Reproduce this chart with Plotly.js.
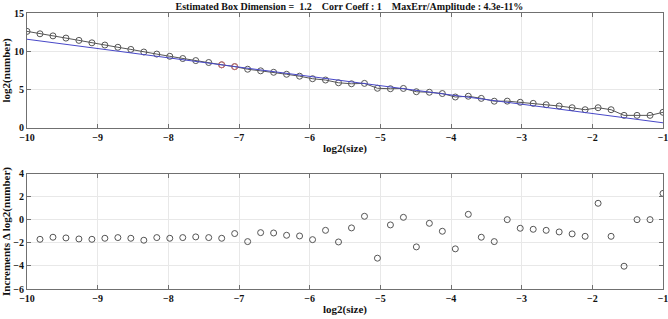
<!DOCTYPE html>
<html>
<head>
<meta charset="utf-8">
<script src="https://cdn.plot.ly/plotly-3.0.1.min.js"></script>
<style>html,body{margin:0;padding:0;background:#fff;}#chart{width:668px;height:319px;}</style>
</head>
<body>
<div id="chart"></div>
<script>
// log2(size) positions
const logSize = [-10.0000, -9.8163, -9.6327, -9.4490, -9.2653, -9.0816, -8.8980, -8.7143, -8.5306, -8.3469,
  -8.1633, -7.9796, -7.7959, -7.6122, -7.4286, -7.2449, -7.0612, -6.8776, -6.6939, -6.5102,
  -6.3265, -6.1429, -5.9592, -5.7755, -5.5918, -5.4082, -5.2245, -5.0408, -4.8571, -4.6735,
  -4.4898, -4.3061, -4.1224, -3.9388, -3.7551, -3.5714, -3.3878, -3.2041, -3.0204, -2.8367,
  -2.6531, -2.4694, -2.2857, -2.1020, -1.9184, -1.7347, -1.5510, -1.3673, -1.1837, -1.0000];
// log2(number)
const logNumber = [12.6, 12.28, 12.01, 11.72, 11.42, 11.1, 10.81, 10.52, 10.24, 9.9,
  9.63, 9.34, 9.05, 8.78, 8.53, 8.23, 7.99, 7.65, 7.44, 7.25,
  6.99, 6.74, 6.41, 6.24, 5.88, 5.75, 5.8, 5.16, 5.1, 5.14,
  4.71, 4.64, 4.47, 4.02, 4.12, 3.84, 3.47, 3.48, 3.33, 3.19,
  3.01, 2.84, 2.62, 2.36, 2.62, 2.36, 1.62, 1.62, 1.62, 2.02];
// highlighted points (indices into the arrays above)
const highlightIdx = [15, 16];
// linear fit end points
const fitX = [-10, -1];
const fitY = [11.57, 0.65];
// increments Δ log2(number), at logSize[1..49]
const increments = [-1.68, -1.50, -1.56, -1.65, -1.68, -1.59, -1.53, -1.59, -1.76, -1.53,
  -1.59, -1.53, -1.47, -1.53, -1.59, -1.18, -1.88, -1.10, -1.13, -1.33,
  -1.39, -1.71, -0.90, -1.91, -0.69, 0.32, -3.32, -0.43, 0.23, -2.34,
  -0.29, -0.98, -2.51, 0.49, -1.50, -1.88, 0.03, -0.72, -0.81, -0.90,
  -1.04, -1.21, -1.42, 1.45, -1.42, -4.02, 0.03, 0.03, 2.31];
const xTicks = [-10, -9, -8, -7, -6, -5, -4, -3, -2, -1];
const yTicksTop = [0, 5, 10, 15];
const yTicksBottom = [-6, -4, -2, 0, 2, 4];
const titleText = 'Estimated Box Dimension =  1.2    Corr Coeff : 1    MaxErr/Amplitude : 4.3e-11%';

const FONT = 'Liberation Serif, Times New Roman, serif';
const axisCommon = {
  showline: true, mirror: 'ticks', linecolor: '#707070', linewidth: 1,
  ticks: 'inside', ticklen: 4, tickcolor: '#707070',
  showgrid: true, gridcolor: '#e8e8e8', gridwidth: 1, zeroline: false,
  ticklabeloverflow: 'allow',
  tickfont: {family: FONT, size: 10, color: '#111', weight: 'bold'}
};

const traces = [
  {x: logSize, y: logNumber, type: 'scatter', mode: 'lines+markers',
   line: {color: '#555555', width: 1},
   marker: {symbol: 'circle-open', size: 6, color: '#555555', line: {width: 1}},
   xaxis: 'x', yaxis: 'y', hoverinfo: 'skip'},
  {x: highlightIdx.map(i => logSize[i]), y: highlightIdx.map(i => logNumber[i]), type: 'scatter', mode: 'markers',
   marker: {symbol: 'circle-open', size: 6, color: '#d07070', line: {width: 1}},
   xaxis: 'x', yaxis: 'y', hoverinfo: 'skip'},
  {x: fitX, y: fitY, type: 'scatter', mode: 'lines',
   line: {color: '#4848c8', width: 1},
   xaxis: 'x', yaxis: 'y', hoverinfo: 'skip'},
  {x: logSize.slice(1), y: increments, type: 'scatter', mode: 'markers',
   marker: {symbol: 'circle-open', size: 6, color: '#555555', line: {width: 1}},
   xaxis: 'x2', yaxis: 'y2', hoverinfo: 'skip'}
];

const layout = {
  width: 668, height: 319,
  margin: {l: 26.7, r: 4.7, t: 12.7, b: 29.7},
  paper_bgcolor: '#fff', plot_bgcolor: '#fff',
  showlegend: false,
  font: {family: FONT, color: '#111'},
  title: {text: '<b>' + titleText + '</b>', font: {family: FONT, size: 10, color: '#111'},
          x: 0.523, xref: 'container', xanchor: 'center', y: 1 - 6.5 / 319, yref: 'container', yanchor: 'middle'},
  xaxis: Object.assign({}, axisCommon, {domain: [0, 1], range: [-10, -1], tickvals: xTicks, anchor: 'y',
    title: {text: '<b>log2(size)</b>', font: {family: FONT, size: 11}, standoff: 2}}),
  yaxis: Object.assign({}, axisCommon, {domain: [0.5842, 1], range: [0, 15], tickvals: yTicksTop, anchor: 'x',
    title: {text: '<b>log2(number)</b>', font: {family: FONT, size: 11}, standoff: 2}}),
  xaxis2: Object.assign({}, axisCommon, {domain: [0, 1], range: [-10, -1], tickvals: xTicks, anchor: 'y2',
    title: {text: '<b>log2(size)</b>', font: {family: FONT, size: 11}, standoff: 2}}),
  yaxis2: Object.assign({}, axisCommon, {domain: [0, 0.4168], range: [-6, 4], tickvals: yTicksBottom, anchor: 'x2',
    title: {text: '<b>Increments Δ log2(number)</b>', font: {family: FONT, size: 11}, standoff: 2}})
};

Plotly.newPlot('chart', traces, layout, {staticPlot: true, displayModeBar: false});
</script>
</body>
</html>
